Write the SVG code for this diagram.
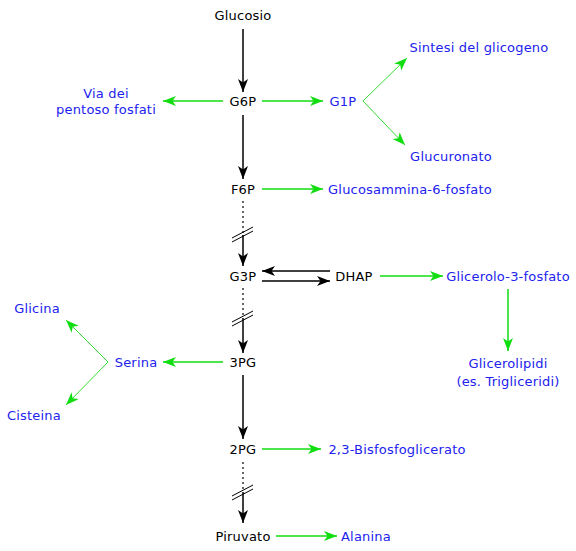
<svg xmlns="http://www.w3.org/2000/svg" width="576" height="551" viewBox="0 0 576 551">
<style>
text{font-family:"DejaVu Sans",Verdana,sans-serif;font-size:13px;letter-spacing:0.2px;text-anchor:middle}
.k{fill:#000}
.b{fill:#2222ee}
.bl{stroke:#000;stroke-width:1.5;fill:none}
.dot{stroke:#000;stroke-width:1.2;stroke-dasharray:2,3;fill:none}
.sl{stroke:#000;stroke-width:1;fill:none}
.gr{stroke:#11dd11;stroke-width:1.5;fill:none}
.gt{stroke:#33dd33;stroke-width:1;fill:none}
</style>
<defs>
<marker id="ak" markerUnits="userSpaceOnUse" markerWidth="14" markerHeight="10" refX="13" refY="5" orient="auto"><path d="M0,0 L13,5 L0,10 L3.5,5 z" fill="#000"/></marker>
<marker id="ag" markerUnits="userSpaceOnUse" markerWidth="14" markerHeight="10" refX="13" refY="5" orient="auto"><path d="M0,0 L13,5 L0,10 L3.5,5 z" fill="#11dd11"/></marker>
</defs>
<rect width="576" height="551" fill="#fff"/>
<g id="connectors">
<line class="bl" x1="243" y1="29" x2="243" y2="92" marker-end="url(#ak)"/>
<line class="bl" x1="243" y1="115" x2="243" y2="179" marker-end="url(#ak)"/>
<line class="dot" x1="243" y1="201" x2="243" y2="233"/>
<line class="bl" x1="243" y1="235" x2="243" y2="266" marker-end="url(#ak)"/>
<line class="sl" x1="232" y1="238" x2="253" y2="227"/>
<line class="sl" x1="232" y1="242" x2="253" y2="231"/>
<line class="bl" x1="330" y1="271" x2="262" y2="271" marker-end="url(#ak)"/>
<line class="bl" x1="262" y1="281" x2="330" y2="281" marker-end="url(#ak)"/>
<line class="dot" x1="243" y1="288" x2="243" y2="316"/>
<line class="bl" x1="243" y1="318" x2="243" y2="353" marker-end="url(#ak)"/>
<line class="sl" x1="232" y1="322" x2="253" y2="311"/>
<line class="sl" x1="232" y1="326" x2="253" y2="315"/>
<line class="bl" x1="243" y1="375" x2="243" y2="439" marker-end="url(#ak)"/>
<line class="dot" x1="243" y1="462" x2="243" y2="490"/>
<line class="bl" x1="243" y1="492" x2="243" y2="523" marker-end="url(#ak)"/>
<line class="sl" x1="232" y1="496" x2="253" y2="485"/>
<line class="sl" x1="232" y1="500" x2="253" y2="489"/>
<line class="gr" x1="262" y1="101" x2="323" y2="101" marker-end="url(#ag)"/>
<line class="gr" x1="223" y1="101" x2="163" y2="101" marker-end="url(#ag)"/>
<line class="gt" x1="363" y1="101" x2="407" y2="58" marker-end="url(#ag)"/>
<line class="gt" x1="363" y1="101" x2="405" y2="145" marker-end="url(#ag)"/>
<line class="gr" x1="262" y1="189" x2="323" y2="189" marker-end="url(#ag)"/>
<line class="gr" x1="380" y1="276" x2="443" y2="276" marker-end="url(#ag)"/>
<line class="gr" x1="508" y1="289" x2="508" y2="351" marker-end="url(#ag)"/>
<line class="gr" x1="223" y1="362" x2="163" y2="362" marker-end="url(#ag)"/>
<line class="gt" x1="108" y1="362" x2="66" y2="320" marker-end="url(#ag)"/>
<line class="gt" x1="108" y1="362" x2="66" y2="405" marker-end="url(#ag)"/>
<line class="gr" x1="262" y1="449" x2="321" y2="449" marker-end="url(#ag)"/>
<line class="gr" x1="276" y1="536" x2="337" y2="536" marker-end="url(#ag)"/>
</g>
<g id="glucosio"><text class="k" x="243" y="20">Glucosio</text></g>
<g id="g6p"><text class="k" x="243" y="106">G6P</text></g>
<g id="f6p"><text class="k" x="243" y="194">F6P</text></g>
<g id="g3p"><text class="k" x="243" y="281">G3P</text></g>
<g id="dhap"><text class="k" x="354" y="281">DHAP</text></g>
<g id="pg3"><text class="k" x="243" y="367">3PG</text></g>
<g id="pg2"><text class="k" x="243" y="454">2PG</text></g>
<g id="piruvato"><text class="k" x="243" y="541">Piruvato</text></g>
<g id="g1p"><text class="b" x="343" y="106">G1P</text></g>
<g id="pentoso"><text class="b" x="106" y="98">Via dei</text><text class="b" x="106" y="114">pentoso fosfati</text></g>
<g id="glicogeno"><text class="b" x="479" y="52">Sintesi del glicogeno</text></g>
<g id="glucuronato"><text class="b" x="451" y="161">Glucuronato</text></g>
<g id="glucosammina"><text class="b" x="410" y="194">Glucosammina-6-fosfato</text></g>
<g id="glicerolo"><text class="b" x="508" y="281">Glicerolo-3-fosfato</text></g>
<g id="glicerolipidi"><text class="b" x="508" y="368">Glicerolipidi</text><text class="b" x="508" y="386">(es. Trigliceridi)</text></g>
<g id="serina"><text class="b" x="136" y="367">Serina</text></g>
<g id="glicina"><text class="b" x="37" y="313">Glicina</text></g>
<g id="cisteina"><text class="b" x="34" y="420">Cisteina</text></g>
<g id="bisfosfoglicerato"><text class="b" x="397" y="454">2,3-Bisfosfoglicerato</text></g>
<g id="alanina"><text class="b" x="366" y="541">Alanina</text></g>
</svg>
